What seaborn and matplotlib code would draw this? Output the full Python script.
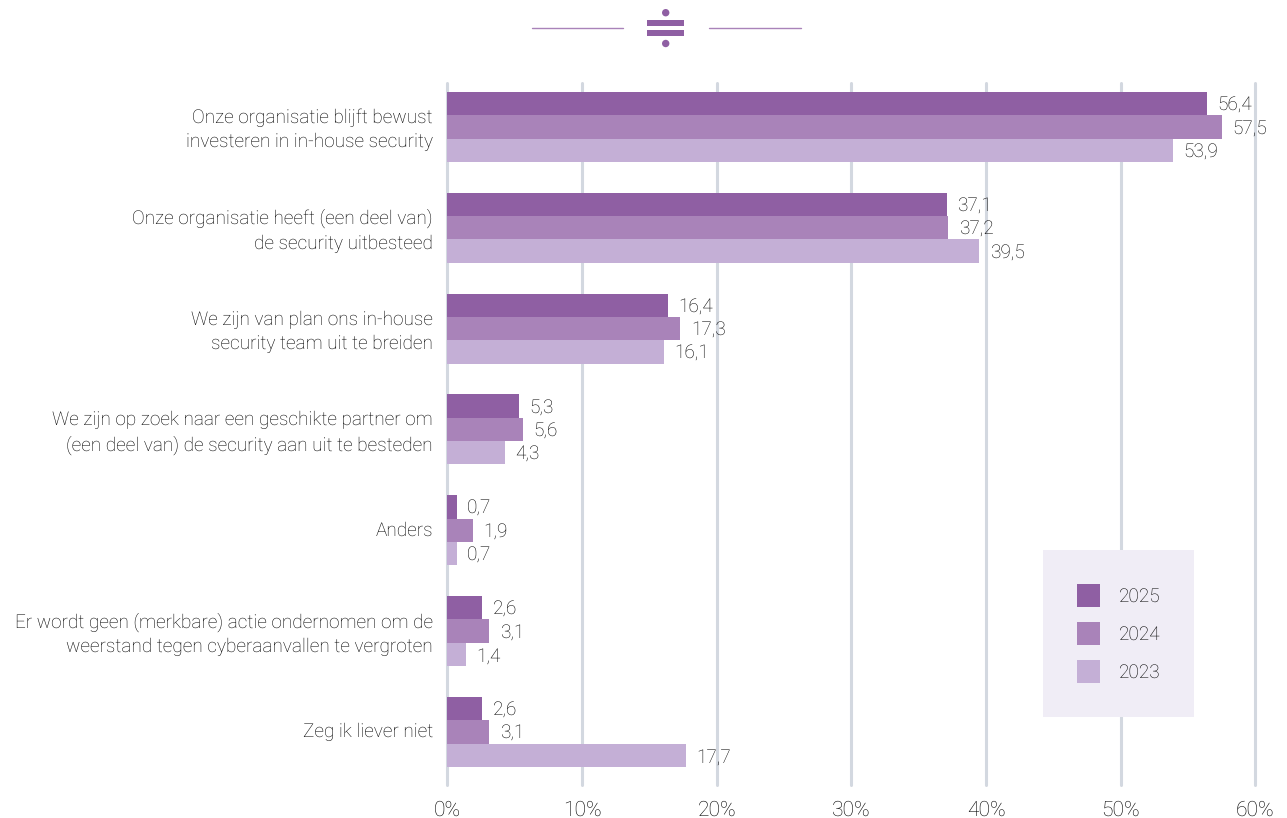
import matplotlib
matplotlib.use("Agg")
import matplotlib.pyplot as plt
from matplotlib.lines import Line2D
from matplotlib.patches import Rectangle, Ellipse
import numpy as np
import pandas as pd
import seaborn as sns

categories = [
    "Onze organisatie blijft bewust\ninvesteren in in-house security",
    "Onze organisatie heeft (een deel van)\nde security uitbesteed",
    "We zijn van plan ons in-house\nsecurity team uit te breiden",
    "We zijn op zoek naar een geschikte partner om\n(een deel van) de security aan uit te besteden",
    "Anders",
    "Er wordt geen (merkbare) actie ondernomen om de\nweerstand tegen cyberaanvallen te vergroten",
    "Zeg ik liever niet",
]
values_2025 = [56.4, 37.1, 16.4, 5.3, 0.7, 2.6, 2.6]
values_2024 = [57.5, 37.2, 17.3, 5.6, 1.9, 3.1, 3.1]
values_2023 = [53.9, 39.5, 16.1, 4.3, 0.7, 1.4, 17.7]
years = ["2025", "2024", "2023"]
palette = ["#8f5fa3", "#a983b9", "#c4afd6"]
x_ticks = [0, 10, 20, 30, 40, 50, 60]

W, H = 1287, 818
TEXT = "#000000"

sns.set_theme(style="white")
plt.rcParams["font.family"] = ["Roboto", "DejaVu Sans"]
plt.rcParams["font.weight"] = "light"
plt.rcParams["text.hinting"] = "no_hinting"
plt.rcParams["text.hinting_factor"] = 1

df = pd.DataFrame({"categorie": categories, "2025": values_2025,
                   "2024": values_2024, "2023": values_2023})
long_df = df.melt(id_vars="categorie", value_vars=years, var_name="jaar", value_name="pct")

fig = plt.figure(figsize=(W / 100, H / 100), dpi=100, facecolor="white")
ax = fig.add_axes([447.4 / W, 1 - 785 / H, 808 / W, 702 / H])
ax.set_axisbelow(True)

sns.barplot(data=long_df, y="categorie", x="pct", hue="jaar", hue_order=years,
            palette=palette, saturation=1, width=0.694, gap=0, dodge=True,
            order=categories, ax=ax, legend=True, linewidth=0, edgecolor="none")

ax.set_xlim(0, 60)
ax.set_ylim(6.526, -0.436)
ax.set_xlabel("")
ax.set_ylabel("")
ax.set_xticks(x_ticks, [f"{t}%" for t in x_ticks], fontsize=15.4, color=TEXT)
ax.set_yticks(np.arange(len(categories)) - 0.02, categories)
ax.tick_params(axis="x", length=0, pad=10.5)
ax.tick_params(axis="y", length=0, pad=10.5, labelsize=13.7, labelcolor=TEXT)
for lab in ax.get_yticklabels():
    lab.set_linespacing(1.42)
    lab.set_verticalalignment("center_baseline")
ax.grid(axis="x", color="#d3d8e0", linewidth=2.2)
ax.grid(axis="y", visible=False)
for gl in ax.get_xgridlines():
    gl.set_clip_on(False)
sns.despine(ax=ax, left=True, bottom=True, top=True, right=True)

for container, vals in zip(ax.containers, [values_2025, values_2024, values_2023]):
    labels = [f"{v:.1f}".replace(".", ",") for v in vals]
    texts = ax.bar_label(container, labels=labels, padding=7.5, fontsize=13.8, color=TEXT)
    for t in texts:
        t.set_verticalalignment("center_baseline")

# Legend panel in the lower right of the plot
handles, labels = ax.get_legend_handles_labels()
ax.get_legend().remove()
leg = ax.legend(handles, labels, loc="lower left", frameon=True, fancybox=False,
                bbox_to_anchor=(1043 / W, 1 - 717 / H), bbox_transform=fig.transFigure,
                borderaxespad=0, facecolor="#f0edf6", edgecolor="none", framealpha=1,
                fontsize=13.8, handlelength=1.2, handleheight=1.47, handletextpad=1.0,
                labelspacing=0.8, borderpad=1.75)
for t in leg.get_texts():
    t.set_color(TEXT)
leg.get_frame().set_linewidth(0)

# Decorative divider above the chart
def px(x, y):
    return x / W, 1 - y / H

divider = "#8f5fa3"
for x0, x1 in [(532, 623), (709, 801)]:
    fig.add_artist(Line2D([x0 / W, x1 / W], [1 - 28 / H] * 2, color="#a983b9", linewidth=1.0))
for top in (20, 30):
    fig.add_artist(Rectangle(px(647, top + 6), 37 / W, 6 / H, transform=fig.transFigure,
                             facecolor=divider, edgecolor="none"))
for cy in (12.7, 43.5):
    fig.add_artist(Ellipse(px(665.7, cy), 7.4 / W, 7.4 / H, transform=fig.transFigure,
                           facecolor=divider, edgecolor="none"))

fig.savefig("out.png", dpi=100)
